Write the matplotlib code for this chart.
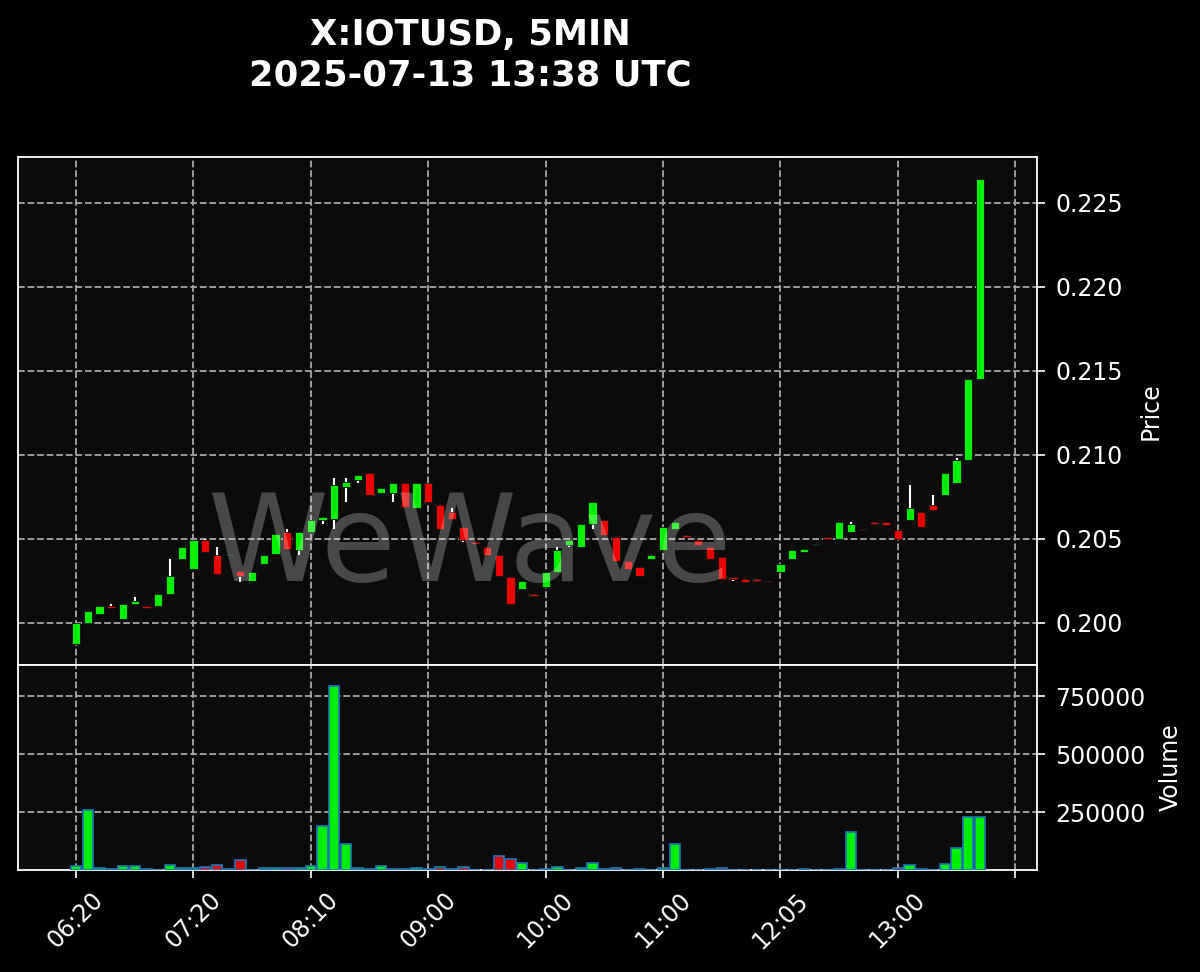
import numpy as np
import matplotlib
matplotlib.use('Agg')
import matplotlib.pyplot as plt

plt.rcParams['font.family'] = ['DejaVu Sans']

title_line1 = 'X:IOTUSD, 5MIN'
title_line2 = '2025-07-13 13:38 UTC'
watermark = 'WeWave'

opens = [0.19873, 0.2000, 0.2005, 0.2010, 0.2002, 0.2011, 0.2010, 0.2010, 0.2017, 0.2038,
         0.2032, 0.2049, 0.2040, 0.2040, 0.2031, 0.2025, 0.2035, 0.2041, 0.2054, 0.2043,
         0.2054, 0.2061, 0.2062, 0.2081, 0.2085, 0.2089, 0.2077, 0.2077, 0.2083, 0.2068,
         0.2083, 0.2070, 0.2066, 0.2057, 0.2048, 0.2045, 0.2040, 0.2027, 0.2020, 0.2017,
         0.2021, 0.2030, 0.2046, 0.2045, 0.2059, 0.2061, 0.2051, 0.2037, 0.2033, 0.2038,
         0.2043, 0.2056, 0.2052, 0.2049, 0.2045, 0.2039, 0.2027, 0.2026, 0.2026, 0.2025,
         0.2030, 0.2038, 0.2042, 0.2046, 0.2051, 0.2050, 0.2054, 0.2056, 0.2060, 0.2060,
         0.2055, 0.2061, 0.2066, 0.2070, 0.2076, 0.2083, 0.2097, 0.2145]
closes = [0.2000, 0.2007, 0.2010, 0.2009, 0.2011, 0.2013, 0.2009, 0.2017, 0.2028, 0.2045,
          0.2049, 0.2042, 0.2029, 0.2041, 0.2028, 0.2030, 0.2040, 0.2053, 0.2044, 0.2054,
          0.2061, 0.2063, 0.2082, 0.2084, 0.2088, 0.2076, 0.2080, 0.2083, 0.2069, 0.2083,
          0.2072, 0.2056, 0.2062, 0.2049, 0.2047, 0.2040, 0.2028, 0.2011, 0.2025, 0.2016,
          0.2030, 0.2043, 0.2049, 0.2059, 0.2072, 0.2052, 0.2037, 0.2032, 0.2028, 0.2040,
          0.2057, 0.2060, 0.2051, 0.2046, 0.2038, 0.2026, 0.2026, 0.2024, 0.2025, 0.2024,
          0.2035, 0.2043, 0.2044, 0.2047, 0.2050, 0.2060, 0.2059, 0.2055, 0.2059, 0.2058,
          0.2050, 0.2068, 0.2057, 0.2067, 0.2089, 0.2097, 0.2145, 0.2264]
# wick extremes that go beyond the body (others equal the body)
highs_extra = {3: 0.2011, 5: 0.2015, 8: 0.2038, 11: 0.2050, 12: 0.2045, 18: 0.2056,
               22: 0.2086, 23: 0.2086, 32: 0.2068, 41: 0.2045, 66: 0.2060,
               71: 0.2082, 73: 0.2076, 75: 0.2098}
lows_extra = {14: 0.2024, 19: 0.2040, 21: 0.2059, 22: 0.2056, 23: 0.2072, 24: 0.2083,
              27: 0.2072, 33: 0.2048, 42: 0.2045, 44: 0.2056, 56: 0.2025}
volumes = [17000, 257000, 7000, 5000, 17000, 19000, 5000, 2000, 21500, 7000,
           7000, 13000, 23000, 3000, 43000, 2000, 8000, 8000, 8000, 8000,
           19000, 190000, 793000, 110600, 7000, 3000, 19000, 4000, 4000, 7000,
           4000, 11000, 3000, 13000, 2000, 2000, 60000, 49000, 31000, 1500,
           4000, 11000, 1500, 8000, 30000, 5000, 10000, 1500, 4000, 1000,
           10000, 111000, 2000, 1000, 6000, 8000, 1500, 2000, 1000, 1000,
           1000, 1000, 4000, 1500, 1000, 4000, 162000, 1000, 1000, 1000,
           10000, 22000, 4000, 2000, 25000, 94000, 228000, 228000]
tick_labels = ['06:20', '07:20', '08:10', '09:00', '10:00', '11:00', '12:05', '13:00', '']

up_color = '#00ee00'
down_color = '#ee0000'
grid_kw = dict(color='#a8a8a8', linestyle='--', linewidth=1.3)

o = np.array(opens)
c = np.array(closes)
x = np.arange(len(o))
hi = np.maximum(o, c)
lo = np.minimum(o, c)
for k, v in highs_extra.items():
    hi[k] = v
for k, v in lows_extra.items():
    lo[k] = v
colors = [up_color if cc >= oo else down_color for oo, cc in zip(o, c)]

fig = plt.figure(figsize=(12, 9.72), dpi=100, facecolor='black')
ax = fig.add_axes([18 / 1200, 1 - 665 / 972, 1019 / 1200, 508 / 972])
vx = fig.add_axes([18 / 1200, 1 - 870 / 972, 1019 / 1200, 205 / 972], sharex=ax)

for a in (ax, vx):
    a.set_facecolor('#0b0b0b')
    for s in a.spines.values():
        s.set_color('white')
        s.set_linewidth(1.3)
    a.yaxis.tick_right()
    a.yaxis.set_label_position('right')
    a.tick_params(colors='white', labelsize=17, length=6, width=1.2, pad=7)
    a.grid(True, **grid_kw)
    a.set_axisbelow(True)

# candles
ax.vlines(x, lo, hi, color='white', linewidth=1.5, zorder=2)
ax.bar(x, c - o, bottom=o, width=0.7, color=colors, edgecolor='#111111',
       linewidth=0.6, zorder=3)
ax.set_ylim(0.19748, 0.22772)
ax.set_yticks([0.200, 0.205, 0.210, 0.215, 0.220, 0.225])
ax.yaxis.set_major_formatter(matplotlib.ticker.FormatStrFormatter('%.3f'))
ax.set_ylabel('Price', color='white', fontsize=17)
ax.yaxis.set_label_coords(1.1, 0.5)
ax.tick_params(axis='x', labelbottom=False, length=0)
ax.text(0.444, 0.232, watermark, transform=ax.transAxes, fontsize=88,
        color='white', alpha=0.25, ha='center', va='center', zorder=10)

# volume
vx.bar(x, volumes, width=0.88, color=colors, edgecolor='#1f77b4', linewidth=1.2, zorder=3)
vx.set_ylim(0, 885000)
vx.set_yticks([250000, 500000, 750000])
vx.set_ylabel('Volume', color='white', fontsize=17)
vx.yaxis.set_label_coords(1.12, 0.5)
vx.set_xlim(-4.94, 81.85)
vx.set_xticks(np.arange(0, 81, 10))
vx.set_xticklabels(tick_labels, rotation=45, ha='center')

fig.text(470 / 1200, 1 - 45 / 972, title_line1, color='white', fontsize=25.5,
         fontweight='bold', ha='center', va='baseline')
fig.text(470 / 1200, 1 - 85 / 972, title_line2, color='white', fontsize=25.5,
         fontweight='bold', ha='center', va='baseline')

fig.savefig('out.png', dpi=100, facecolor='black')
